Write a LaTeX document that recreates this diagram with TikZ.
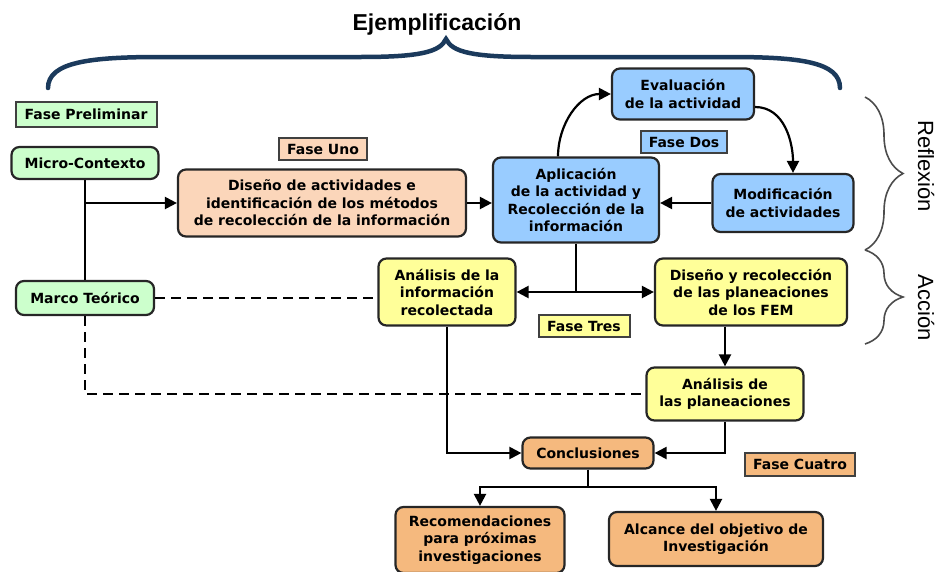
\documentclass[tikz,border=0pt]{standalone}
\usepackage{fontspec}
\setmainfont{DejaVu Sans}
\newfontfamily\titfont{Liberation Sans}
\usetikzlibrary{arrows.meta}
\usetikzlibrary{decorations.pathreplacing}
\definecolor{verde}{HTML}{CCFFCC}
\definecolor{durazno}{HTML}{FBD6BA}
\definecolor{azul}{HTML}{99CCFF}
\definecolor{amarillo}{HTML}{FFFF99}
\definecolor{naranja}{HTML}{F5B97E}
\definecolor{marino}{HTML}{1B3A5C}
\tikzset{
  caja/.style={draw=black!85, line width=2.2pt, rounded corners=8pt, align=center,
    inner sep=2pt, font=\fontsize{14}{17.5}\selectfont\bfseries},
  fase/.style={draw=black!75, line width=2pt, inner sep=2pt,
    font=\fontsize{14}{16}\selectfont\bfseries},
  flecha/.style={line width=2.2pt, -{Triangle[length=12pt,width=12pt]}},
  linea/.style={line width=2.2pt},
  guion/.style={line width=2.2pt, dash pattern=on 10pt off 6pt},
  llave/.style={decorate, decoration={brace, amplitude=38pt}, draw=black!70, line width=1.6pt},
  lado/.style={rotate=-90, font=\titfont\fontsize{22}{24}\selectfont}
}

\begin{document}
\begin{tikzpicture}[x=1pt, y=-1pt]
        \useasboundingbox (0,0) rectangle (939,571);
        % titulo
        \node[font=\titfont\bfseries\fontsize{23}{26}\selectfont] (ejem) at (437,24) {Ejemplificación};
        \draw[marino, line width=4.5pt, line cap=round] (48,88) .. controls (48,62) and (90,57) .. (160,57)
            -- (360,57) .. controls (420,57) and (440,52) .. (446,39)
            .. controls (452,52) and (472,57) .. (532,57) -- (730,57)
            .. controls (800,57) and (840,62) .. (840,88);
        % fase preliminar
        \node[fase, fill=verde, minimum width=141, minimum height=25] (fprel) at (86,114) {Fase Preliminar};
        \node[caja, fill=verde, minimum width=147, minimum height=32] (micro) at (85,163) {Micro-Contexto};
        \node[caja, fill=verde, minimum width=138, minimum height=34] (marco) at (85,298) {Marco Teórico};
        % fase uno
        \node[fase, fill=durazno, minimum width=88, minimum height=22] (funo) at (323,149) {Fase Uno};
        \node[caja, fill=durazno, minimum width=288, minimum height=67] (disAct) at (322,203)
            {Diseño de actividades e\\identificación de los métodos\\de recolección de la información};
        % fase dos
        \node[caja, fill=azul, minimum width=166, minimum height=85] (aplic) at (576,200)
            {Aplicación\\de la actividad y\\Recolección de la\\información};
        \node[caja, fill=azul, minimum width=142, minimum height=51] (evalua) at (683,94)
            {Evaluación\\de la actividad};
        \node[fase, fill=azul, minimum width=86, minimum height=22] (fdos) at (684,142) {Fase Dos};
        \node[caja, fill=azul, minimum width=141, minimum height=58] (modif) at (783,203)
            {Modificación\\de actividades};
        % fase tres
        \node[caja, fill=amarillo, minimum width=137, minimum height=67] (anInfo) at (447,292)
            {Análisis de la\\información\\recolectada};
        \node[caja, fill=amarillo, minimum width=192, minimum height=67] (disFEM) at (751,292)
            {Diseño y recolección\\de las planeaciones\\de los FEM};
        \node[fase, fill=amarillo, minimum width=91, minimum height=22] (ftres) at (584,326) {Fase Tres};
        \node[caja, fill=amarillo, minimum width=157, minimum height=53] (anPlan) at (725,394)
            {Análisis de\\las planeaciones};
        % fase cuatro
        \node[caja, fill=naranja, minimum width=131, minimum height=31] (concl) at (588,453) {Conclusiones};
        \node[fase, fill=naranja, minimum width=110, minimum height=23] (fcuatro) at (800,464) {Fase Cuatro};
        \node[caja, fill=naranja, minimum width=169, minimum height=66] (recom) at (480,540)
            {Recomendaciones\\para próximas\\investigaciones};
        \node[caja, fill=naranja, minimum width=214, minimum height=54] (alcance) at (716,539)
            {Alcance del objetivo de\\Investigación};
        % conectores
        \draw[linea] (micro.south) -- (marco.north);
        \draw[flecha] (micro.south |- disAct.west) -- (disAct.west);
        \draw[guion] (marco.east) -- (marco.east -| anInfo.west);
        \draw[guion] (marco.south) |- (anPlan.west);
        \draw[flecha] (disAct.east) -- (disAct.east -| aplic.west);
        \draw[flecha] (modif.west) -- (modif.west -| aplic.east);
        \draw[flecha] ([xshift=-18pt]aplic.north) to[out=90, in=180] (evalua.west);
        \draw[flecha] ([yshift=-13pt]evalua.east) to[out=0, in=90] ([xshift=10pt]modif.north);
        \coordinate (rama) at (aplic.south |- anInfo.east);
        \draw[linea] (aplic.south) -- (rama);
        \draw[flecha] (rama) -- (anInfo.east);
        \draw[flecha] (rama) -- (disFEM.west);
        \draw[flecha] (anPlan.north |- disFEM.south) -- (anPlan.north);
        \draw[flecha] (anInfo.south) |- (concl.west);
        \draw[flecha] (anPlan.south) |- (concl.east);
        \coordinate (rama2) at (588,487);
        \draw[linea] (concl.south) -- (rama2);
        \draw[flecha] (rama2) -| (recom.north);
        \draw[flecha] (rama2) -| (alcance.north);
        % llaves
        \draw[llave] (865,97) -- (865,250);
        \draw[llave] (865,250) -- (865,344);
        \node[lado] (refl) at (926,166) {Reflexión};
        \node[lado] (acc) at (926,308) {Acción};
    \end{tikzpicture}
\end{document}
